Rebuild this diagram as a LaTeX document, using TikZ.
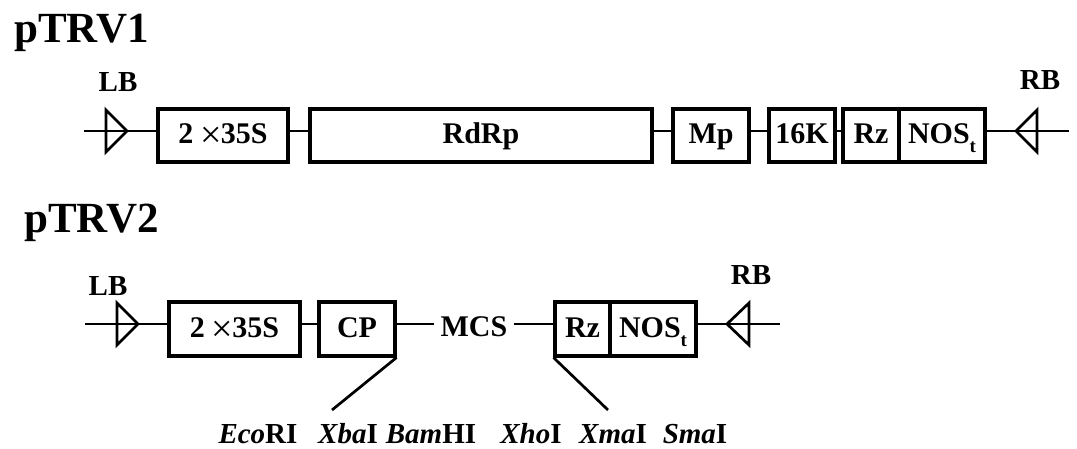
\documentclass[tikz,border=0pt]{standalone}
\usepackage{fontspec}
\setmainfont{Liberation Serif}
\newcommand{\boxfont}{\fontsize{30}{34}\selectfont\bfseries}
\newcommand{\labfont}{\fontsize{29}{33}\selectfont\bfseries}
\newcommand{\titfont}{\fontsize{43}{48}\selectfont\bfseries}
\newcommand{\subt}{\raisebox{-0.3em}{\fontsize{19}{20}\selectfont t}}
\newcommand{\bigtimes}{\raisebox{-4pt}{\mdseries\fontsize{38}{38}\selectfont ×}}
\newcommand{\twothirtyfive}{2\hspace{0.22em}\bigtimes\hspace{-0.02em}35S}
\begin{document}
\begin{tikzpicture}[x=1pt,y=-1pt,
  gbox/.style={draw, line width=3.1pt, inner sep=0pt, font=\boxfont, text height=20pt, text depth=3pt},
  row1/.style={gbox, minimum height=53pt},
  row2/.style={gbox, minimum height=54pt},
  wire/.style={line width=2.7pt},
  tri/.style={line width=2.7pt, line join=miter},
  lab/.style={font=\labfont, inner sep=0pt, anchor=base},
  tit/.style={font=\titfont, inner sep=0pt, anchor=base west}]
\useasboundingbox (0,0) rectangle (1077,449);
\fill[white] (0,0) rectangle (1077,449);

% ---------- pTRV1 ----------
\node[tit] (t1) at (14,43) {pTRV1};
\coordinate (L1) at (0,131);
\coordinate (s1) at (84,131);
\coordinate (e1) at (1069,131);
\node[row1, minimum width=130pt] (A1) at (223,135.5) {\twothirtyfive};
\node[row1, minimum width=342pt] (R1) at (481,135.5) {RdRp};
\node[row1, minimum width=76pt] (M1) at (711,135.5) {Mp};
\node[row1, minimum width=66pt] (K1) at (802,135.5) {16K};
\node[row1, minimum width=56pt] (Z1) at (871,135.5) {Rz};
\node[row1, minimum width=86pt] (N1) at (942,135.5) {NOS\subt};
\node[lab] (lb1) at (118,92) {LB};
\node[lab] (rb1) at (1040,90) {RB};
\draw[tri] (106,110) -- (127,131) -- (106,152) -- cycle;
\draw[tri] (1037,110) -- (1016,131) -- (1037,152) -- cycle;
\draw[wire] (s1) -- (A1.west |- L1);
\draw[wire] (A1.east |- L1) -- (R1.west |- L1);
\draw[wire] (R1.east |- L1) -- (M1.west |- L1);
\draw[wire] (M1.east |- L1) -- (K1.west |- L1);
\draw[wire] (K1.east |- L1) -- (Z1.west |- L1);
\draw[wire] (N1.east |- L1) -- (e1);

% ---------- pTRV2 ----------
\node[tit] (t2) at (24,233) {pTRV2};
\coordinate (L2) at (0,324);
\coordinate (s2) at (85,324);
\coordinate (e2) at (780,324);
\node[row2, minimum width=131pt] (A2) at (234.5,329) {\twothirtyfive};
\node[row2, minimum width=76pt] (C2) at (357,329) {CP};
\node[row2, minimum width=55pt] (Z2) at (582.5,329) {Rz};
\node[row2, minimum width=86pt] (N2) at (653,329) {NOS\subt};
\node[font=\boxfont, inner sep=0pt, anchor=base] (MCS) at (474,337) {MCS};
\node[lab] (lb2) at (108,295) {LB};
\node[lab] (rb2) at (751,284) {RB};
\draw[tri] (117,303) -- (138,324) -- (117,345) -- cycle;
\draw[tri] (749,303) -- (727,324) -- (749,345) -- cycle;
\draw[wire] (s2) -- (A2.west |- L2);
\draw[wire] (A2.east |- L2) -- (C2.west |- L2);
\draw[wire] (C2.east |- L2) -- ([xshift=-6pt]MCS.west |- L2);
\draw[wire] ([xshift=6pt]MCS.east |- L2) -- (Z2.west |- L2);
\draw[wire] (N2.east |- L2) -- (e2);

% diagonals
\coordinate (d1) at (332,410);
\coordinate (d2) at (608,410);
\draw[wire] (C2.south east) -- (d1);
\draw[wire] (Z2.south west) -- (d2);

% restriction sites
\node[lab] (eco) at (258,443) {\textit{Eco}RI};
\node[lab] (xba) at (348,443) {\textit{Xba}I};
\node[lab] (bam) at (431,443) {\textit{Bam}HI};
\node[lab] (xho) at (531,443) {\textit{Xho}I};
\node[lab] (xma) at (613,443) {\textit{Xma}I};
\node[lab] (sma) at (695,443) {\textit{Sma}I};
\end{tikzpicture}
\end{document}
